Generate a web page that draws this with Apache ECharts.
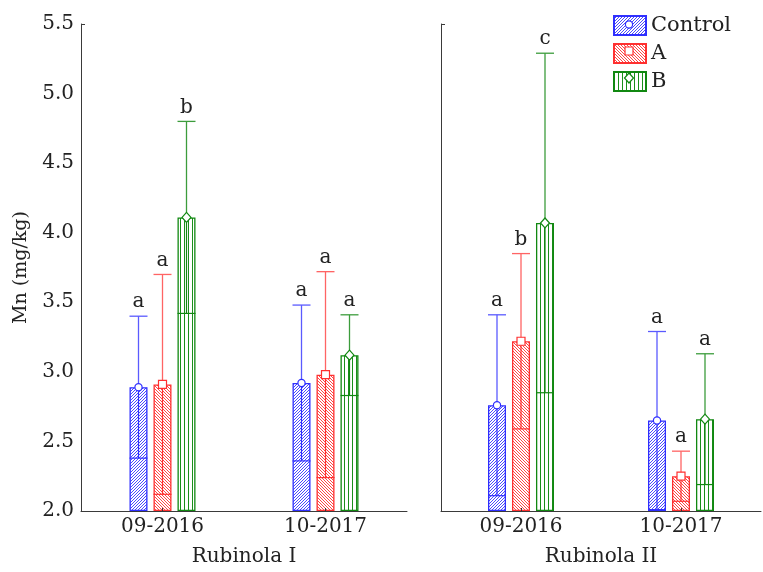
<!DOCTYPE html>
<html><head><meta charset="utf-8">
<script src="https://cdn.jsdelivr.net/npm/echarts@6/dist/echarts.min.js"></script>
<style>html,body{margin:0;padding:0;background:#fff}#c{width:763px;height:572px}</style>
</head><body><div id="c"></div>
<script>
// ---- data ----
const categories = ['09-2016', '10-2017'];
const panelNames = ['Rubinola I', 'Rubinola II'];
const groupNames = ['Control', 'A', 'B'];
const yMin = 2.0, yMax = 5.5, yStep = 0.5;

// Rubinola I
const controlMeanI = [2.89, 2.92];
const controlSdI   = [0.51, 0.56];
const aMeanI       = [2.91, 2.98];
const aSdI         = [0.79, 0.74];
const bMeanI       = [4.11, 3.12];
const bSdI         = [0.69, 0.29];
const controlLetI  = ['a', 'a'];
const aLetI        = ['a', 'a'];
const bLetI        = ['b', 'a'];

// Rubinola II
const controlMeanII = [2.76, 2.65];
const controlSdII   = [0.65, 0.64];
const aMeanII       = [3.22, 2.25];
const aSdII         = [0.63, 0.18];
const bMeanII       = [4.07, 2.66];
const bSdII         = [1.22, 0.47];
const controlLetII  = ['a', 'a'];
const aLetII        = ['b', 'a'];
const bLetII        = ['c', 'a'];

// ---- styles ----
const FONT = "'DejaVu Serif', serif";
const styles = [
  {border: '#2f2fff', hatch: '#4a4aff', whisker: '#5a5aff', mark: 'circle', pat: '/', off: -24},
  {border: '#ff3030', hatch: '#ff4646', whisker: '#ff6464', mark: 'square', pat: '\\', off: 0},
  {border: '#118811', hatch: '#1a8f1a', whisker: '#3c9c3c', mark: 'diamond', pat: '|', off: 24}
];

function makeHatch(color, type) {
  const s = type === '|' ? 4 : 3;
  const c = document.createElement('canvas');
  c.width = s; c.height = s;
  const ctx = c.getContext('2d');
  ctx.fillStyle = '#fff';
  ctx.fillRect(0, 0, s, s);
  ctx.fillStyle = color;
  if (type === '|') {
    ctx.fillRect(0, 0, 1, s);
  } else {
    for (let i = 0; i < s; i++) {
      const px = type === '/' ? (s - 1 - i) : i;
      ctx.fillRect(px, i, 1, 1);
    }
  }
  return {image: c, repeat: 'repeat'};
}

function markerShape(type, x, y, color) {
  const st = {fill: '#fff', stroke: color, lineWidth: 1.2};
  if (type === 'circle') return {type: 'circle', shape: {cx: x, cy: y, r: 3.6}, style: st, z2: 5};
  if (type === 'square') return {type: 'rect', shape: {x: x - 4, y: y - 4, width: 8, height: 8}, style: st, z2: 5};
  return {type: 'polygon', shape: {points: [[x, y - 5], [x + 4.5, y], [x, y + 5], [x - 4.5, y]]}, style: st, z2: 5};
}

const panelData = [
  [[controlMeanI, controlSdI, controlLetI], [aMeanI, aSdI, aLetI], [bMeanI, bSdI, bLetI]],
  [[controlMeanII, controlSdII, controlLetII], [aMeanII, aSdII, aLetII], [bMeanII, bSdII, bLetII]]
];

const series = [];
panelData.forEach((groups, p) => {
  groups.forEach((g, gi) => {
    const st = styles[gi];
    series.push({
      name: groupNames[gi], type: 'bar', xAxisIndex: p, yAxisIndex: p,
      barWidth: 18, barGap: '33.3%',
      itemStyle: {color: makeHatch(st.hatch, st.pat), borderColor: st.border, borderWidth: 1.3},
      data: g[0], z: 2
    });
  });
  groups.forEach((g, gi) => {
    const st = styles[gi];
    const means = g[0], sds = g[1], lets = g[2];
    series.push({
      name: groupNames[gi] + ' err', type: 'custom', xAxisIndex: p, yAxisIndex: p, z: 4,
      data: means.map((m, i) => [i, m, m - sds[i], m + sds[i]]),
      renderItem: function (params, api) {
        const ci = api.value(0);
        const pm = api.coord([ci, api.value(1)]);
        const x = pm[0] + st.off;
        const yM = pm[1];
        const yL = api.coord([ci, api.value(2)])[1];
        const yH = api.coord([ci, api.value(3)])[1];
        const ls = {stroke: st.whisker, lineWidth: 1.3};
        const bs = {stroke: st.border, lineWidth: 1.2};
        return {type: 'group', children: [
          {type: 'line', shape: {x1: x, y1: yL, x2: x, y2: yM}, style: bs},
          {type: 'line', shape: {x1: x - 9, y1: yL, x2: x + 9, y2: yL}, style: bs},
          {type: 'line', shape: {x1: x, y1: yM, x2: x, y2: yH}, style: ls},
          {type: 'line', shape: {x1: x - 9, y1: yH, x2: x + 9, y2: yH}, style: ls},
          markerShape(st.mark, x, yM, st.border),
          {type: 'text', style: {text: lets[params.dataIndex], x: x, y: yH - 4, align: 'center', verticalAlign: 'bottom',
            font: '20px ' + FONT, fill: '#222'}}
        ]};
      }
    });
  });
});

const axisLineStyle = {color: '#3a3a3a', width: 1};
const option = {
  animation: false,
  backgroundColor: '#fff',
  grid: [
    {left: 81, top: 24, width: 326, height: 491},
    {left: 441, top: 24, width: 320, height: 491}
  ],
  xAxis: panelNames.map((nm, p) => ({
    type: 'category', gridIndex: p, data: categories, z: 10,
    name: nm, nameLocation: 'middle', nameGap: 36,
    nameTextStyle: {fontFamily: FONT, fontSize: 20, color: '#222'},
    axisLine: {lineStyle: axisLineStyle},
    axisTick: {show: true, alignWithLabel: true, inside: true, length: 3, lineStyle: {color: '#3a3a3a'}},
    axisLabel: {fontFamily: FONT, fontSize: 20, color: '#222', margin: 6}
  })),
  yAxis: [0, 1].map(p => ({
    type: 'value', gridIndex: p, min: yMin, max: yMax, interval: yStep, startValue: yMin,
    name: p === 0 ? 'Mn (mg/kg)' : '', nameLocation: 'middle', nameGap: 50,
    nameTextStyle: {fontFamily: FONT, fontSize: 19, color: '#222'},
    axisLine: {show: true, lineStyle: axisLineStyle},
    axisTick: {show: true, inside: true, length: 4, customValues: [yMax], lineStyle: {color: '#3a3a3a'}},
    axisLabel: {show: p === 0, fontFamily: FONT, fontSize: 20, color: '#222', margin: 7,
      formatter: v => v.toFixed(1)},
    splitLine: {show: false}
  })),
  legend: {
    data: groupNames, orient: 'vertical', left: 613, top: 15, padding: 0,
    itemWidth: 32, itemHeight: 19, itemGap: 7, icon: 'rect',
    textStyle: {fontFamily: FONT, fontSize: 21, color: '#222', lineHeight: 19},
    selectedMode: false
  },
  graphic: [
    markerShape('circle', 629, 24.5, styles[0].border),
    markerShape('square', 629, 51, styles[1].border),
    markerShape('diamond', 629, 78, styles[2].border)
  ].map(s => Object.assign(s, {z: 100})),
  series: series
};

const chart = echarts.init(document.getElementById('c'), null, {renderer: 'canvas'});
chart.setOption(option);
</script></body></html>
